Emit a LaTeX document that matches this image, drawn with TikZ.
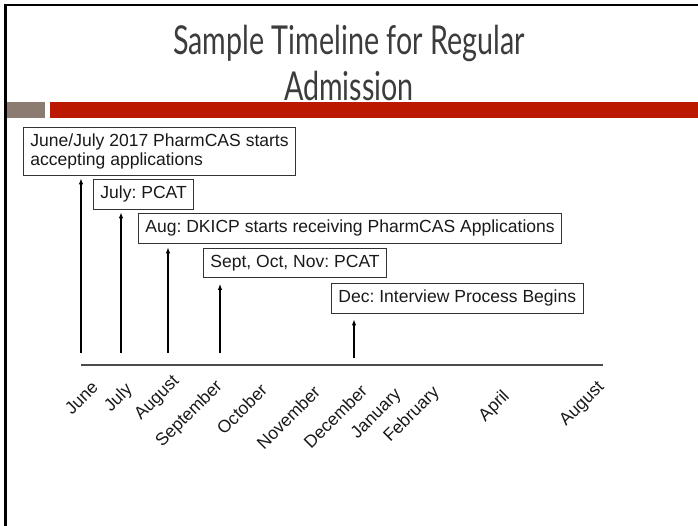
\documentclass[tikz,border=0pt]{standalone}
\usepackage{fontspec}
\setmainfont{Liberation Sans}
\newfontfamily\titlefont[FakeStretch=0.72]{Lato}
\usetikzlibrary{arrows.meta,positioning}
\definecolor{slidered}{RGB}{187,26,0}
\definecolor{slidegray}{RGB}{140,123,112}
\definecolor{titlegray}{RGB}{60,60,60}
\frenchspacing

\begin{document}
\begin{tikzpicture}[x=1bp,y=-1bp]

      \tikzstyle{eventbox}=[draw=black!80,line width=0.8bp,
        anchor=north west,align=left,inner xsep=7bp,inner ysep=6.6bp,
        font=\fontsize{17.6}{19}\selectfont,text=black!90]
      \tikzstyle{month}=[rotate=45,anchor=east,inner sep=0pt,
        font=\fontsize{17.6}{19}\selectfont,text=black!90]
      \tikzstyle{event}=[line width=1.4bp,
        -{Latex[length=6bp,width=4.5bp]}]
      \tikzstyle{heading}=[anchor=base,text=titlegray,
        font=\titlefont\fontsize{40}{44}\selectfont]

      \useasboundingbox (0,0) rectangle (698,526);

      \node(title1)[heading] at (349,55) {Sample Timeline for Regular};
      \node(title2)[heading] at (349,101) {Admission};

      % slide frame and bars
      \draw[line width=2.4bp] (5.5,526) -- (5.5,5) -- (698,5);
      \fill[slidegray] (7,102) rectangle (45,118);
      \fill[slidered] (50,102) rectangle (698,118);

      % event boxes
      \node(b1)[eventbox] at (23,127)
        {June/July 2017 PharmCAS starts\\accepting applications};
      \node(b2)[eventbox] at (93,179) {July: PCAT};
      \node(b3)[eventbox] at (138,213)
        {Aug: DKICP starts receiving PharmCAS Applications};
      \node(b4)[eventbox] at (203,248) {Sept, Oct, Nov: PCAT};
      \node(b5)[eventbox] at (331,283) {Dec: Interview Process Begins};

      % timeline
      \coordinate (jun) at (81,353);
      \coordinate (jul) at (121,353);
      \coordinate (aug) at (168,353);
      \coordinate (sep) at (220,353);
      \coordinate (dec) at (354,358);
      \coordinate (axisL) at (81,365);
      \coordinate (axisR) at (603,365);

      \draw [line width=1.4bp,black!70]
      (axisL)--(axisR);

      \draw [event,shorten >=2bp] (jun)--(jun |- b1.south);
      \draw [event,shorten >=3bp] (jul)--(jul |- b2.south);
      \draw [event,shorten >=4bp] (aug)--(aug |- b3.south);
      \draw [event,shorten >=6bp] (sep)--(sep |- b4.south);
      \draw [event,shorten >=6bp] (dec)--(dec |- b5.south);

      \foreach \m/\x/\y [count=\i] in {June/95/384, July/130/387,
        August/177/379, September/220/384, October/264/387,
        November/317/389, December/364/388, January/399/392,
        February/437/390, April/507/394, August/602/385}
        \node(mon\i)[month] at (\x,\y) {\m};

    \end{tikzpicture}
\end{document}
